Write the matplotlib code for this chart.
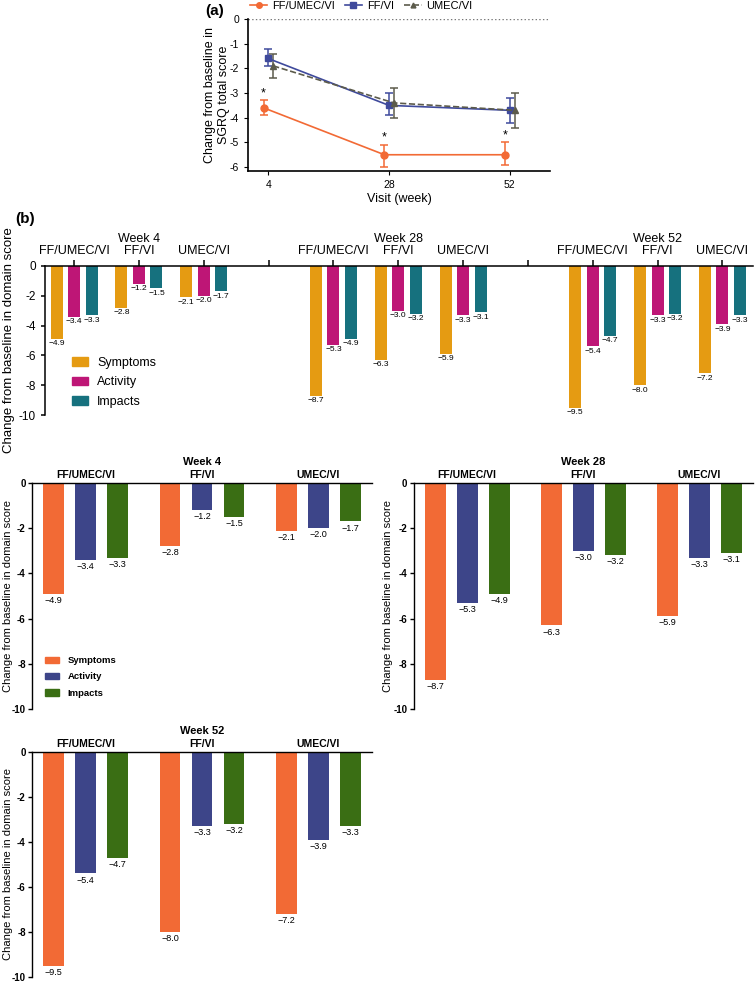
import matplotlib
matplotlib.use('Agg')
import matplotlib.pyplot as plt
import matplotlib.transforms as mtransforms
from matplotlib.lines import Line2D
from matplotlib.patches import Patch
import numpy as np

plt.rcParams['font.family'] = ['Liberation Sans', 'DejaVu Sans']

# panel (a): SGRQ total score
visits = [4, 28, 52]
triple_mean = [-3.6, -5.5, -5.5]
triple_lo = [-3.9, -6.0, -5.9]
triple_hi = [-3.3, -5.1, -5.0]
ffvi_mean = [-1.6, -3.5, -3.7]
ffvi_lo = [-1.9, -3.9, -4.2]
ffvi_hi = [-1.2, -3.0, -3.2]
umecvi_mean = [-1.9, -3.4, -3.7]
umecvi_lo = [-2.4, -4.0, -4.4]
umecvi_hi = [-1.4, -2.8, -3.0]

# panel (b): domain scores, rows = week, cols = treatment
weeks = ['Week 4', 'Week 28', 'Week 52']
treatments = ['FF/UMEC/VI', 'FF/VI', 'UMEC/VI']
domains = ['Symptoms', 'Activity', 'Impacts']
symptoms = [[-4.9, -2.8, -2.1], [-8.7, -6.3, -5.9], [-9.5, -8.0, -7.2]]
activity = [[-3.4, -1.2, -2.0], [-5.3, -3.0, -3.3], [-5.4, -3.3, -3.9]]
impacts = [[-3.3, -1.5, -1.7], [-4.9, -3.2, -3.1], [-4.7, -3.2, -3.3]]

c_orange = '#F26A35'
c_blue = '#3F4A9C'
c_gray = '#5C5B4B'
top_cols = ['#E59B12', '#BE1676', '#16717E']
bot_cols = ['#F26A35', '#3D4589', '#3A6E14']


def minus(v):
    return '\u2212' + format(abs(v), '.1f')


fig = plt.figure(figsize=(7.55, 9.83), dpi=100)

# ---------------- panel (a)
ax = fig.add_axes([0.3285, 0.826, 0.400, 0.1547])
series = [
    (triple_mean, triple_lo, triple_hi, c_orange, 'o', '-', -0.9),
    (ffvi_mean, ffvi_lo, ffvi_hi, c_blue, 's', '-', 0.0),
    (umecvi_mean, umecvi_lo, umecvi_hi, c_gray, '^', '--', 1.0),
]
for m, lo, hi, col, mk, ls, off in series:
    m = np.array(m)
    x = np.array(visits) + off
    yerr = [m - np.array(lo), np.array(hi) - m]
    ax.errorbar(x, m, yerr=yerr, color=col, marker=mk, ms=5 if mk != '^' else 4,
                ls=ls, lw=1.2, capsize=3, elinewidth=1.1, capthick=1.1)
for x, hi in zip(visits, triple_hi):
    ax.text(x - 0.9, hi + 0.05, '*', ha='center', va='bottom', fontsize=9)
ax.axhline(0, ls=':', color='#777777', lw=1)
ax.set_xlim(0, 60)
ax.set_ylim(-6.16, 0)
ax.set_xticks(visits)
ax.set_yticks([0, -1, -2, -3, -4, -5, -6])
ax.set_yticklabels(['0', '-1', '-2', '-3', '-4', '-5', '-6'])
ax.tick_params(labelsize=7.5, length=3)
for s in ['top', 'right']:
    ax.spines[s].set_visible(False)
ax.spines['left'].set_linewidth(1.2)
ax.spines['bottom'].set_linewidth(1.2)
ax.set_xlabel('Visit (week)', fontsize=9, labelpad=2)
ax.set_ylabel('Change from baseline in\nSGRQ total score', fontsize=9)
ax.yaxis.set_label_coords(-0.06, 0.5)
handles = [Line2D([], [], color=c_orange, marker='o', ms=4, lw=1.2),
           Line2D([], [], color=c_blue, marker='s', ms=4, lw=1.2),
           Line2D([], [], color=c_gray, marker='^', ms=3.5, lw=1.2, ls='--')]
fig.legend(handles, treatments, loc='center', bbox_to_anchor=(0.478, 0.9939),
           ncol=3, frameon=False, fontsize=8, handlelength=1.6,
           handletextpad=0.4, columnspacing=0.9, borderpad=0)
fig.text(0.2715, 0.9888, '(a)', fontsize=11, fontweight='bold', va='center')

# ---------------- panel (b) top: single wide axes
axb = fig.add_axes([0.0596, 0.5778, 0.9384, 0.1516])
offs = [-0.27, 0.0, 0.27]
data = [symptoms, activity, impacts]
for w in range(3):
    for t in range(3):
        gx = w * 4 + t
        for d in range(3):
            v = data[d][w][t]
            axb.bar(gx + offs[d], v, width=0.185, color=top_cols[d])
            axb.annotate(minus(v), (gx + offs[d], v), xytext=(0, -1),
                         textcoords='offset points', ha='center', va='top',
                         fontsize=6)
axb.set_xlim(-0.45, 10.48)
axb.set_ylim(-10, 0)
axb.set_yticks([0, -2, -4, -6, -8, -10])
axb.set_yticklabels(['0', '-2', '-4', '-6', '-8', '-10'])
axb.tick_params(axis='y', labelsize=8.5, length=3, width=1.1)
axb.xaxis.tick_top()
axb.set_xticks(range(11))
axb.set_xticklabels([])
axb.tick_params(axis='x', length=4, width=1.1)
for s in ['bottom', 'right']:
    axb.spines[s].set_visible(False)
axb.spines['top'].set_linewidth(1.1)
axb.spines['left'].set_linewidth(1.1)
axb.set_ylabel('Change from baseline in domain score', fontsize=9.5)
axb.yaxis.set_label_coords(-0.043, 0.5)
trans = mtransforms.blended_transform_factory(axb.transData, axb.transAxes)
for w in range(3):
    axb.text(w * 4 + 1, 1.18, weeks[w], transform=trans, ha='center',
             va='center', fontsize=9)
    for t in range(3):
        axb.text(w * 4 + t, 1.10, treatments[t], transform=trans, ha='center',
                 va='center', fontsize=9)
axb.legend([Patch(color=c) for c in top_cols], domains, loc='center left',
           bbox_to_anchor=(0.038, 0.22), frameon=False, fontsize=9,
           handlelength=1.3, handleheight=0.65, handletextpad=0.7,
           labelspacing=0.6, borderpad=0, borderaxespad=0)
fig.text(0.02, 0.7777, '(b)', fontsize=11, fontweight='bold', va='center')

# ---------------- panel (b) bottom: three separate axes
rects = [[0.0424, 0.2787, 0.4503, 0.2299],
         [0.548, 0.2787, 0.449, 0.2299],
         [0.0424, 0.0061, 0.4503, 0.2289]]
label_x = [-0.055, -0.062, -0.055]
offs2 = [-0.275, 0.0, 0.275]
for w in range(3):
    a = fig.add_axes(rects[w])
    for t in range(3):
        for d in range(3):
            v = data[d][w][t]
            a.bar(t + offs2[d], v, width=0.18, color=bot_cols[d])
            a.annotate(minus(v), (t + offs2[d], v), xytext=(0, -1.5),
                       textcoords='offset points', ha='center', va='top',
                       fontsize=6.5)
    a.set_xlim(-0.46, 2.46)
    a.set_ylim(-10, 0)
    a.set_yticks([0, -2, -4, -6, -8, -10])
    a.set_yticklabels(['0', '-2', '-4', '-6', '-8', '-10'], fontweight='bold')
    a.tick_params(axis='y', labelsize=7, length=3, width=1, pad=1.5)
    a.set_xticks([])
    for s in ['bottom', 'right']:
        a.spines[s].set_visible(False)
    a.spines['top'].set_linewidth(1)
    a.spines['left'].set_linewidth(1)
    a.set_ylabel('Change from baseline in domain score', fontsize=8)
    a.yaxis.set_label_coords(label_x[w], 0.5)
    tr = mtransforms.blended_transform_factory(a.transData, a.transAxes)
    a.text(1, 1.093, weeks[w], transform=tr, ha='center', va='center',
           fontsize=8, fontweight='bold')
    for t in range(3):
        a.text(t, 1.036, treatments[t], transform=tr, ha='center',
               va='center', fontsize=7.5, fontweight='bold')
    if w == 0:
        leg = a.legend([Patch(color=c) for c in bot_cols], domains,
                       loc='center left', bbox_to_anchor=(0.038, 0.142),
                       frameon=False, fontsize=6.8, handlelength=1.5,
                       handleheight=0.7, handletextpad=0.9, labelspacing=0.75,
                       borderpad=0, borderaxespad=0)
        for txt in leg.get_texts():
            txt.set_fontweight('bold')

fig.savefig('out.png', dpi=100)
